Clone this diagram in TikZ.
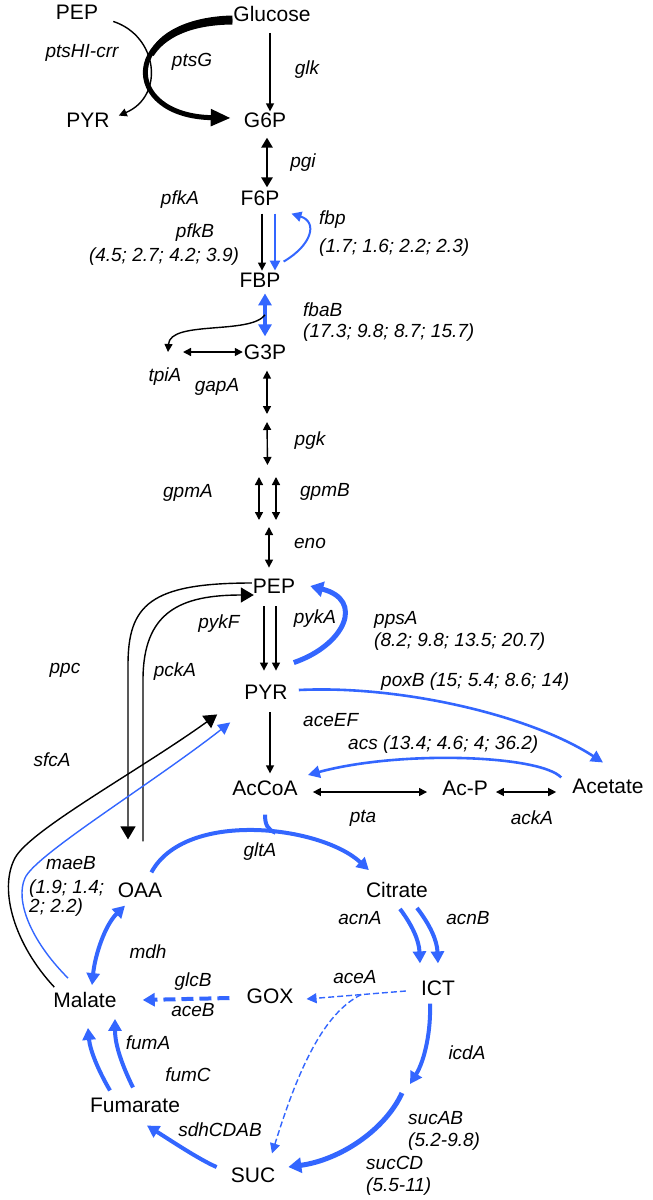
\documentclass[tikz,border=0pt]{standalone}
\usepackage{fontspec}
\setmainfont{Liberation Sans}
\usetikzlibrary{arrows.meta,positioning}
\definecolor{upclr}{RGB}{51,102,255}
\tikzset{
  met/.style={font=\fontsize{21}{24}\selectfont,inner sep=1pt},
  gene/.style={font=\fontsize{19}{22}\selectfont\itshape,inner sep=1pt},
  vals/.style={gene,anchor=west,align=left},
  rxn/.style={-{Triangle[length=8pt,width=8pt]},line width=1.4pt},
  revrxn/.style={{Triangle[length=8pt,width=8pt]}-{Triangle[length=8pt,width=8pt]},line width=1.4pt},
  revbold/.style={{Triangle[length=10pt,width=11pt]}-{Triangle[length=10pt,width=11pt]},line width=2.8pt},
  bigrxn/.style={-{Triangle[length=13pt,width=15pt]},line width=1.4pt},
  pts/.style={-{Triangle[length=20pt,width=16pt]},line width=5pt},
  flux/.style={draw=upclr,-{Triangle[length=12pt,width=13pt]},line width=4pt},
  fluxmid/.style={flux,line width=2.6pt,-{Triangle[length=10pt,width=10pt]}},
  fluxthin/.style={flux,line width=1.4pt,-{Triangle[length=12pt,width=12pt]}},
  fluxrev/.style={flux,{Triangle[length=12pt,width=13pt]}-{Triangle[length=12pt,width=13pt]}},
  fluxheavy/.style={flux,line width=5pt,-{Triangle[length=13pt,width=15pt]}},
  fluxdash/.style={fluxthin,dash pattern=on 6pt off 3pt,-{Triangle[length=10pt,width=10pt]}},
  fluxdashbold/.style={flux,dash pattern=on 12pt off 6pt},
}
\begin{document}
\begin{tikzpicture}[x=1pt,y=-1pt]
\useasboundingbox (0,0) rectangle (653,1200);

% Metabolites
\node[met] (pepT)  at (77,12)    {PEP};
\node[met] (glc)   at (272,14)   {Glucose};
\node[met] (pyrT)  at (88,120)   {PYR};
\node[met] (g6p)   at (265,120)  {G6P};
\node[met] (f6p)   at (260,198)  {F6P};
\node[met] (fbp)   at (260,280)  {FBP};
\node[met] (g3p)   at (265,352)  {G3P};
\node[met] (pep)   at (274,586)  {PEP};
\node[met] (pyr)   at (266,692)  {PYR};
\node[met] (accoa) at (265,788)  {AcCoA};
\node[met] (acp)   at (465,788)  {Ac-P};
\node[met] (ac)    at (608,786)  {Acetate};
\node[met] (oaa)   at (140,890)  {OAA};
\node[met] (cit)   at (397,890)  {Citrate};
\node[met] (ict)   at (438,988)  {ICT};
\node[met] (gox)   at (270,996)  {GOX};
\node[met] (mal)   at (85,1000)  {Malate};
\node[met] (fum)   at (135,1105) {Fumarate};
\node[met] (suc)   at (253,1175) {SUC};

% Unnamed intermediates
\coordinate (dhap) at (168,352);
\coordinate (bpg)  at (267,418);
\coordinate (pg3)  at (267.5,471);
\coordinate (pg2)  at (267.5,524);
\coordinate (akg)  at (410,1084);

% Genes and fold changes
\node[gene] (ptsHI) at (82,53)  {ptsHI-crr};
\node[gene] (ptsG)  at (192,62) {ptsG};
\node[gene] (glk)   at (307,70) {glk};
\node[gene] (pgi)   at (303,163) {pgi};
\node[gene] (pfkA)  at (180,200) {pfkA};
\node[gene] (pfkB)  at (195,233) {pfkB};
\node[gene] (pfkBv) at (164,257) {(4.5; 2.7; 4.2; 3.9)};
\node[gene,anchor=west] (fbpg) at (318,220) {fbp};
\node[vals] (fbpv)  at (318,248) {(1.7; 1.6; 2.2; 2.3)};
\node[gene,anchor=west] (fbaB) at (302,310) {fbaB};
\node[vals] (fbaBv) at (302,333) {(17.3; 9.8; 8.7; 15.7)};
\node[gene] (tpiA)  at (165,377) {tpiA};
\node[gene] (gapA)  at (217,387) {gapA};
\node[gene] (pgk)   at (310,441) {pgk};
\node[gene] (gpmA)  at (188,493) {gpmA};
\node[gene] (gpmB)  at (325,492) {gpmB};
\node[gene] (eno)   at (310,543) {eno};
\node[gene] (pykF)  at (219,624) {pykF};
\node[gene] (pykA)  at (315,619) {pykA};
\node[gene,anchor=west] (ppsA) at (373,620) {ppsA};
\node[vals] (ppsAv) at (373,642) {(8.2; 9.8; 13.5; 20.7)};
\node[gene] (ppc)   at (65,670)  {ppc};
\node[gene] (pckA)  at (175,672) {pckA};
\node[gene,anchor=west] (poxB) at (380,682) {poxB (15; 5.4; 8.6; 14)};
\node[gene,anchor=west] (aceEF) at (302,720) {aceEF};
\node[gene,anchor=west] (acs) at (347,745) {acs (13.4; 4.6; 4; 36.2)};
\node[gene] (sfcA)  at (52,760)  {sfcA};
\node[gene] (pta)   at (363,818) {pta};
\node[gene] (ackA)  at (532,818) {ackA};
\node[gene] (gltA)  at (260,852) {gltA};
\node[gene] (maeB)  at (71,863)  {maeB};
\node[vals,font=\fontsize{19}{17}\selectfont\itshape] (maeBv) at (28,898) {(1.9; 1.4;\\2; 2.2)};
\node[gene] (acnA)  at (360,918) {acnA};
\node[gene] (acnB)  at (468,918) {acnB};
\node[gene] (mdh)   at (148,952) {mdh};
\node[gene] (aceA)  at (355,977) {aceA};
\node[gene] (glcB)  at (193,982) {glcB};
\node[gene] (aceB)  at (193,1010) {aceB};
\node[gene] (fumA)  at (148,1043) {fumA};
\node[gene] (fumC)  at (188,1075) {fumC};
\node[gene] (icdA)  at (467,1053) {icdA};
\node[gene,anchor=west] (sucAB) at (407,1118) {sucAB};
\node[vals] (sucABv) at (407,1142) {(5.2-9.8)};
\node[gene] (sdh)   at (220,1130) {sdhCDAB};
\node[gene,anchor=west] (sucCD) at (365,1163) {sucCD};
\node[vals] (sucCDv) at (365,1187) {(5.5-11)};

% Glucose uptake
\draw[rxn] ([shift={(14,1)}]pepT.south east) .. controls (158,36) and (165,96) .. ([shift={(8,4)}]pyrT.north east);
\draw[pts] ([shift={(0,6)}]glc.west) .. controls (120,22) and (120,116) .. ([shift={(-12,-2)}]g6p.west);
% tapered start of the ptsG arrow
\fill ([shift={(0,1.5)}]glc.west) .. controls (187.5,16.5) and (157.5,33) .. (149.3,53.7)
  -- (153.7,55.9) .. controls (164,39.5) and (187.5,25) .. ([shift={(0,10.5)}]glc.west) -- cycle;
\draw[rxn] ([shift={(-2,10)}]glc.south) -- ([shift={(5,0)}]g6p.north);

% Upper glycolysis
\draw[revbold] ([shift={(2,9)}]g6p.south) -- ([shift={(7,-2)}]f6p.north);
\draw[rxn] ([shift={(2,7)}]f6p.south) -- ([shift={(2,-1)}]fbp.north);
\draw[fluxmid] ([shift={(15,7)}]f6p.south) -- ([shift={(15,-1)}]fbp.north);
\draw[fluxmid,line width=2pt] ([shift={(2,-10)}]fbp.north east) .. controls (312,245) and (318,222) .. ([shift={(11,7)}]f6p.south east);
\draw[fluxrev] ([shift={(5,5)}]fbp.south) -- ([shift={(0,-7)}]g3p.north) coordinate[pos=0.5] (fbasplit);
\draw[rxn] (fbasplit) .. controls (250,335) and (170,320) .. (dhap);
\draw[revrxn] ([xshift=15pt]dhap) -- (g3p.west);

% Lower glycolysis
\draw[revrxn] ([shift={(2,10)}]g3p.south) -- ([shift={(0,-4)}]bpg);
\draw[revrxn] ([shift={(0,4)}]bpg) -- ([shift={(0,-6)}]pg3);
\foreach \dx in {-8.5,8.5} \draw[revrxn] ([shift={(\dx,6)}]pg3) -- ([shift={(\dx,-4)}]pg2);
\draw[revrxn] ([shift={(1.5,3)}]pg2) -- ([shift={(-5,-10)}]pep.north);
\foreach \dx in {-10,2} \draw[rxn] ([shift={(\dx,12)}]pep.south) -- ([shift={(\dx+8,-13)}]pyr.north);
\draw[flux,line width=5pt,-{Triangle[length=13pt,width=15pt]}] ([shift={(5,-21)}]pyr.north east) .. controls (345,645) and (365,600) .. ([xshift=14pt]pep.east);

% Acetate node
\draw[fluxmid,-{Triangle[length=12pt,width=12pt]}] ([shift={(10,-2)}]pyr.east) .. controls (400,685) and (530,715) .. ([shift={(-5,-15)}]ac.north);
\draw[fluxmid,-{Triangle[length=12pt,width=12pt]}] ([shift={(-10,0)}]ac.north west) .. controls (540,755) and (400,750) .. ([shift={(9,-13)}]accoa.east);
\draw[revrxn] ([shift={(14,4)}]accoa.east) -- ([shift={(-14,4)}]acp.west);
\draw[revrxn] ([shift={(7,4)}]acp.east) -- ([shift={(-15,6)}]ac.west);
\draw[rxn] ([shift={(4,12)}]pyr.south) -- ([shift={(5,-6)}]accoa.north);

% Anaplerotic reactions
\draw[bigrxn] ([shift={(0,-3)}]pep.west) .. controls (150,583) and (128,605) .. (128,665) -- ([shift={(-12,-42)}]oaa.north);
\draw[bigrxn] ([shift={(3,-40)}]oaa.north) -- (143,680) .. controls (143,612) and (180,595) .. ([shift={(2,9)}]pep.west);
\draw[bigrxn] ([shift={(2,-4)}]mal.north west) .. controls (15,945) and (-2,890) .. (15,858) .. controls (30,830) and (140,770) .. ([shift={(-26,14)}]pyr.south west);
\draw[fluxthin] ([shift={(-17,-13)}]mal.north) .. controls (30,940) and (15,900) .. (25,878) .. controls (35,855) and (150,785) .. ([shift={(-13,22)}]pyr.south west);

% TCA cycle
\draw[flux] ([shift={(-12,-9)}]oaa.north east) .. controls (185,810) and (320,825) .. ([shift={(4,-11)}]cit.north west) coordinate[pos=0.58] (gltjoin);
\draw[flux,-] ([shift={(0,18)}]accoa.south) .. controls +(0,10) and +(-8,-3) .. (gltjoin);
\draw[flux] ([shift={(3,10)}]cit.south) .. controls (412,925) and (419,940) .. ([shift={(-18,-16)}]ict.north);
\draw[flux] ([shift={(20,9)}]cit.south) .. controls (430,925) and (437,940) .. ([shift={(0,-16)}]ict.north);
\draw[flux] ([shift={(-8,7)}]ict.south) .. controls (431,1030) and (425,1060) .. (akg);
\draw[fluxheavy] ([shift={(-8,9)}]akg) .. controls (385,1130) and (340,1160) .. ([shift={(12,-8)}]suc.east);
\draw[flux] ([shift={(-13,-8)}]suc.west) .. controls (200,1160) and (170,1140) .. ([shift={(12,12)}]fum.south);
\draw[flux] ([shift={(-25,-6)}]fum.north) .. controls (98,1070) and (90,1050) .. ([shift={(3,19)}]mal.south);
\draw[flux] ([shift={(-2,-9)}]fum.north) .. controls (122,1065) and (115,1045) .. ([shift={(30,10)}]mal.south);
\draw[fluxrev] ([shift={(7,-6)}]mal.north) .. controls (95,955) and (105,925) .. ([shift={(-15,7)}]oaa.south);

% Glyoxylate shunt
\draw[fluxdash] ([shift={(-14,3)}]ict.west) -- ([shift={(12,3)}]gox.east) coordinate[pos=0.45] (aceAsplit);
\draw[fluxdash] (aceAsplit) .. controls (320,1015) and (295,1080) .. ([shift={(19,-13)}]suc.north);
\draw[fluxdashbold] ([shift={(-16,2)}]gox.west) -- ([xshift=25pt]mal.east);

\end{tikzpicture}
\end{document}
